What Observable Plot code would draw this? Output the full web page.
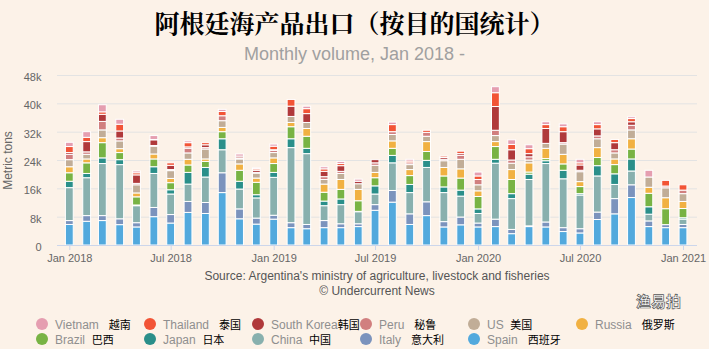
<!DOCTYPE html>
<html><head><meta charset="utf-8">
<script src="https://cdn.jsdelivr.net/npm/d3@7"></script>
<script src="https://cdn.jsdelivr.net/npm/@observablehq/plot@0.6"></script>
<style>
html,body{margin:0;padding:0;background:#fcf2e8;}
#wrap{position:relative;width:709px;height:349px;overflow:hidden;background:#fcf2e8;font-family:Arial,"Liberation Sans",sans-serif;}
#title{position:absolute;left:0;top:6px;width:709px;text-align:center;font-family:"Noto Serif CJK SC","Noto Sans CJK SC",serif;font-weight:bold;font-size:25px;line-height:32px;color:#000;}
#subtitle{position:absolute;left:0;top:43px;width:709px;text-align:center;font-size:18px;line-height:22px;color:#a0a0a0;}
#chart{position:absolute;left:0;top:64px;}
#caption{position:absolute;left:57px;width:640px;top:269px;text-align:center;font-size:12px;line-height:15px;color:#555;}
.li{position:absolute;font-size:12px;line-height:14px;white-space:pre;color:#8f8f8f;}
.dot{position:absolute;width:12px;height:12px;border-radius:50%;}
.zh{color:#000;font-family:"Noto Sans CJK SC",sans-serif;font-size:11px;line-height:14px;}
#wm{position:absolute;left:636px;top:293px;height:16px;line-height:16px;overflow:visible;font-family:"Noto Sans CJK SC",sans-serif;font-size:15px;color:#fff;-webkit-text-stroke:0.7px #555;font-weight:bold;}
</style></head>
<body>
<div id="wrap">
  <div id="title"></div>
  <div id="subtitle"></div>
  <div id="chart"></div>
  <div id="caption"></div>
  <div id="legend"></div>
  <div id="wm">渔易拍</div>
</div>
<script>
const titleText = "阿根廷海产品出口（按目的国统计）";
const subtitleText = "Monthly volume, Jan 2018 -";
const captionLines = ["Source: Argentina's ministry of agriculture, livestock and fisheries", "© Undercurrent News"];
const yAxisLabel = "Metric tons";

const months = ["2018-01","2018-02","2018-03","2018-04","2018-05","2018-06","2018-07","2018-08","2018-09","2018-10","2018-11","2018-12",
  "2019-01","2019-02","2019-03","2019-04","2019-05","2019-06","2019-07","2019-08","2019-09","2019-10","2019-11","2019-12",
  "2020-01","2020-02","2020-03","2020-04","2020-05","2020-06","2020-07","2020-08","2020-09","2020-10","2020-11","2020-12",
  "2021-01"];
const xTicks = ["2018-01","2018-07","2019-01","2019-07","2020-01","2020-07","2021-01"];
const yTicks = [0, 8, 16, 24, 32, 40, 48];

// stack order, bottom to top
const countries = ["Spain","Italy","China","Japan","Brazil","Russia","US","Peru","South Korea","Thailand","Vietnam"];
const colors = ["#52a9dd","#7b93bd","#88b0ae","#2a8f8a","#78b344","#f1b142","#c1ad97","#d17f7f","#b0393b","#f25436","#e59eb0"];

// legend order and labels
const legendOrder = ["Vietnam","Thailand","South Korea","Peru","US","Russia","Brazil","Japan","China","Italy","Spain"];
const legendEn = ["Vietnam   ","Thailand   ","South Korea","Peru   ","US  ","Russia   ","Brazil  ","Japan  ","China  ","Italy   ","Spain   "];
const legendZh = ["越南","泰国","韩国","秘鲁","美国","俄罗斯","巴西","日本","中国","意大利","西班牙"];

// thousand metric tons per month
const spain    = [5.8,6.7,6.9,5.75,5.1,8.0,6.2,9.2,8.9,14.8,7.4,5.9, 7.3,4.9,4.6,4.9,4.9,5.2,9.8,12.1,5.8,8.3,5.1,5.7, 5.1,5.2,3.2,5.2,5.1,3.8,3.4,7.2,8.8,13.4,5.2,4.9, 4.9];
const italy    = [1.1,1.6,1.4,1.65,1.2,2.6,2.4,3.1,3.1,5.6,2.8,1.7, 1.1,1.4,1.2,2.0,1.1,0.8,1.6,3.3,3.0,3.9,1.5,2.2, 1.1,2.1,1.2,0.2,1.4,1.1,1.2,2.1,4.3,3.6,1.6,0.85, 0.9];
const china    = [9.3,10.7,14.7,15.3,4.8,9.6,5.8,4.9,7.2,6.5,5.6,5.7, 10.7,21.2,20.0,4.2,5.4,3.4,3.0,7.8,6.0,9.7,8.2,5.9, 2.7,15.8,8.7,13.1,16.5,13.8,9.5,10.2,4.0,3.9,1.9,0, 1.5];
const japan    = [1.8,1.2,1.6,1.4,0.2,1.9,1.2,3.3,2.7,3.1,2.2,0.9, 1.4,2.5,1.5,1.3,1.6,0.1,2.3,2.1,2.3,2.0,1.6,1.7, 1.3,1.1,1.4,1.5,0.8,2.4,0.4,2.9,3.0,3.4,2.1,0, 0.4];
const brazil   = [2.4,3.0,4.3,2.0,2.3,2.2,2.0,2.1,1.7,2.0,3.1,3.5, 2.5,3.4,3.4,2.5,2.7,3.0,2.3,2.0,2.5,2.5,3.1,3.4, 3.5,3.6,4.0,0.6,0.6,1.8,2.0,2.3,2.6,2.8,3.8,4.5, 2.6];
const russia   = [1.7,1.1,1.4,1.1,1.1,1.4,1.2,1.6,0.7,1.2,1.8,1.2, 1.6,1.2,2.2,2.3,2.8,3.2,1.5,2.1,1.7,2.8,2.4,2.6, 1.6,1.4,2.8,2.6,2.9,2.7,1.4,2.8,1.6,2.9,1.7,3.1, 2.0];
const us       = [2.0,1.3,2.2,2.2,2.3,2.2,2.2,1.8,2.8,1.9,1.4,1.4, 1.5,1.7,1.7,1.3,1.7,1.6,2.0,1.8,1.4,1.5,1.9,2.7, 1.7,1.7,1.8,0.8,1.4,2.9,2.8,2.5,1.7,2.5,2.9,2.8, 2.2];
const peru     = [1.5,0.7,2.4,0.8,0.4,0.2,0.3,1.3,0.4,1.4,0.3,0.2, 0.6,0,0,0.8,0.6,0,0.7,0.8,0.5,1.1,0.4,1.1, 1.5,1.5,0.9,0.9,0,0.4,0.4,0.8,0.9,1.3,0,0.5, 1.0];
const korea    = [0.5,2.9,2.0,2.0,2.4,1.6,1.2,0.4,0.8,0,0.5,0.6, 0.2,2.9,2.5,1.5,1.6,0.7,0.9,0,0,0,0.5,0.5, 0,6.7,2.9,0.9,4.2,3.1,1.5,2.0,2.0,1.0,0,0, 0];
const thailand = [1.7,1.2,0.7,1.9,0.6,0.1,0.7,1.2,0.6,1.2,0,0.4, 1.0,1.9,1.4,0.7,0.6,0,0,2.0,0.5,0.6,0.4,0.7, 1.0,3.9,1.5,1.4,1.1,1.4,0.6,1.2,0.9,0.9,0,1.6, 1.5];
const vietnam  = [1.2,1.6,2.0,1.4,0.5,1.1,0,0.5,0,0.6,0.6,0.3, 0.6,0,0.7,0.6,0.6,0.6,0,0.7,0.5,0,0,0, 1.1,1.7,1.3,1.1,0.8,0.8,1.0,0.8,0,0.5,1.9,0, 0];

const series = [spain, italy, china, japan, brazil, russia, us, peru, korea, thailand, vietnam];

const parseMonth = d3.utcParse("%Y-%m");
const rows = [];
months.forEach((m, i) => {
  const date = parseMonth(m);
  countries.forEach((c, j) => {
    const v = series[j][i];
    if (v > 0) rows.push({date, country: c, value: v});
  });
});

document.getElementById("title").textContent = titleText;
document.getElementById("subtitle").textContent = subtitleText;
document.getElementById("caption").innerHTML = captionLines.map(t => `<div>${t}</div>`).join("");

const plot = Plot.plot({
  width: 709,
  height: 205,
  marginLeft: 57,
  marginRight: 12,
  marginTop: 11,
  marginBottom: 24,
  style: {fontFamily: "Arial, 'Liberation Sans', sans-serif", fontSize: "11px", color: "#666", background: "transparent", overflow: "visible"},
  x: {type: "utc", domain: [new Date(Date.UTC(2017, 11, 10)), new Date(Date.UTC(2021, 0, 26))]},
  y: {domain: [0, 48]},
  color: {domain: countries, range: colors},
  marks: [
    Plot.gridY(yTicks.filter(d => d > 0), {stroke: "#e3e3e3", strokeOpacity: 1}),
    Plot.rectY(rows, {
      x1: d => d3.utcDay.offset(d.date, -7),
      x2: d => d3.utcDay.offset(d.date, 7),
      y: "value",
      z: "country",
      fill: "country",
      order: countries,
      stroke: "white",
      strokeWidth: 1
    }),
    Plot.ruleY([0], {stroke: "#ccd6eb"}),
    Plot.axisX({ticks: xTicks.map(parseMonth), tickFormat: d3.utcFormat("%b %Y"), tickSize: 5, tickPadding: 4, stroke: "#ccd6eb", label: null}),
    Plot.axisY({ticks: yTicks, tickFormat: d => d === 0 ? "0" : d + "k", tickSize: 0, tickPadding: 16, dy: 2, label: yAxisLabel, labelAnchor: "center", labelArrow: "none", labelOffset: 54})
  ]
});
document.getElementById("chart").appendChild(plot);
d3.select(plot).selectAll('[aria-label="y-axis label"] text').style("font-size", "12px");

// legend
const legend = document.getElementById("legend");
const colX = [42, 150, 258, 366, 474, 582];
const rowY = [324, 338.5];
legendOrder.forEach((name, k) => {
  const col = k < 6 ? k : k - 6;
  const row = k < 6 ? 0 : 1;
  const cx = colX[col], cy = rowY[row];
  const dot = document.createElement("div");
  dot.className = "dot";
  dot.style.left = (cx - 6) + "px";
  dot.style.top = (cy - 6) + "px";
  dot.style.background = colors[countries.indexOf(name)];
  legend.appendChild(dot);
  const lab = document.createElement("div");
  lab.className = "li";
  lab.style.left = (cx + 13) + "px";
  lab.style.top = (cy - 7) + "px";
  lab.innerHTML = `${legendEn[k]}<span class="zh">${legendZh[k]}</span>`;
  legend.appendChild(lab);
});
</script>
</body></html>
